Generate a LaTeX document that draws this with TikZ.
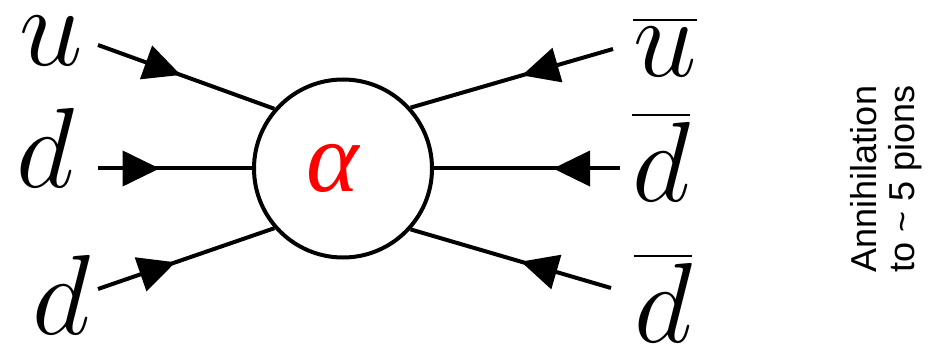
\RequirePackage{fix-cm}
\documentclass[tikz,border=0pt]{standalone}
\usepackage{exscale}
\usepackage{fontspec}
\newfontfamily\notefont{Liberation Sans}
\newfontfamily\alphafont{Liberation Serif}
\usetikzlibrary{arrows.meta,decorations.markings,positioning}

\begin{document}
\begin{tikzpicture}[x=0.5pt, y=-0.5pt,
			>=latex,   %Pfeilspitzen
			quark/.style={line width=2pt, postaction={decorate},
				decoration={markings, mark=at position #1 with {\arrow{Triangle[length=18.5pt,width=17.5pt]}}}},
			quarklbl/.style={inner sep=0pt, font=\fontsize{57}{60}\selectfont},
			blob/.style={circle, draw, line width=2pt, minimum size=89pt, inner sep=0pt}]
			\useasboundingbox (0,0) rectangle (936,352);
			% Vertex zeichnen
			\node[blob] (vtx) at (343,168.5) {};
			\node[text=red, inner sep=0pt, font=\alphafont\itshape\fontsize{50}{52}\selectfont] (alpha) at (333,168) {α};
			% Endpunkte der Linien
			\coordinate (uin) at (98,45);
			\coordinate (din) at (98,168.5);
			\coordinate (dlin) at (98,289);
			\coordinate (ubin) at (613,49);
			\coordinate (dbin) at (620,168.5);
			\coordinate (dblin) at (611,288);
			% Quarklinien zeichnen
			\draw[quark=0.47] (uin) -- (vtx.139);
			\draw[quark=0.40] (din) -- (vtx.180);
			\draw[quark=0.44] (dlin) -- (vtx.221);
			\draw[quark=0.45] (ubin) -- (vtx.42);
			\draw[quark=0.36] (dbin) -- (vtx.0);
			\draw[quark=0.45] (dblin) -- (vtx.-42);
			% Beschriftung
			\node[quarklbl] (u) at (51,41) {$u$};
			\node[quarklbl] (d) at (46,148) {$d$};
			\node[quarklbl] (dl) at (62,295) {$d$};
			\node[quarklbl] (ub) at (665,47) {$\overline{u}$};
			\node[quarklbl] (db) at (661,157) {$\overline{d}$};
			\node[quarklbl] (dbl) at (663,298) {$\overline{d}$};
			\node[rotate=90, align=center, inner sep=0pt, font=\notefont\fontsize{18}{19}\selectfont] (note) at (886,179) {Annihilation\\to \textasciitilde{} 5 pions};
		\end{tikzpicture}
\end{document}
